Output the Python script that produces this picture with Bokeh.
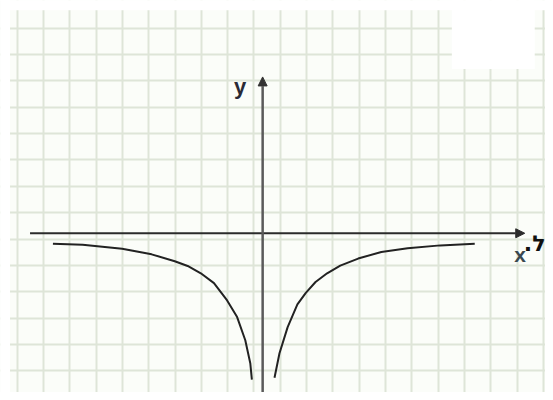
from bokeh.plotting import figure
from bokeh.models import Range1d, FixedTicker, Arrow, NormalHead
from bokeh.core.properties import value
from bokeh.embed import file_html
from bokeh.resources import INLINE

# Curve points (grid units, origin at axis crossing)
left_x = [-7.97, -6.84, -5.34, -4.22, -3.34, -2.85, -2.35, -1.85, -1.35, -0.97, -0.66, -0.47, -0.41]
left_y = [-0.40, -0.44, -0.59, -0.80, -1.06, -1.24, -1.52, -1.89, -2.55, -3.18, -4.06, -4.93, -5.55]
right_x = [0.45, 0.64, 0.95, 1.32, 1.64, 2.01, 2.45, 2.95, 3.63, 4.51, 5.51, 6.75, 8.06]
right_y = [-5.48, -4.55, -3.56, -2.70, -2.26, -1.85, -1.52, -1.23, -0.96, -0.71, -0.57, -0.46, -0.40]

axis_labels = ["x", "y"]
side_label = "ל.\u200f"

# view geometry (grid units); whole reference canvas mapped onto the figure
UX = 26.7
UY = 26.9
W, H = 545, 392
x0, x1 = -266.0 / UX, (553.0 - 266.0) / UX
y1, y0 = 237.5 / UY, -(400.0 - 237.5) / UY

p = figure(width=W, height=H, x_range=Range1d(x0, x1), y_range=Range1d(y0, y1),
           output_backend="svg", toolbar_location=None,
           min_border=0, min_border_left=0, min_border_right=0,
           min_border_top=0, min_border_bottom=0,
           background_fill_color="#fbfdf9", border_fill_color="white",
           outline_line_color=None)
p.xaxis.visible = False
p.yaxis.visible = False

vticks = [-9.33 + k for k in range(0, 21)]
hticks = [0.78 + k for k in range(-7, 8)]
p.xgrid.ticker = FixedTicker(ticks=vticks)
p.ygrid.ticker = FixedTicker(ticks=hticks)
for g in (p.xgrid, p.ygrid):
    g.grid_line_color = "#dee5d8"
    g.grid_line_width = 2

# white patches (top strip and cut-out at top right)
p.quad(left=[x0, 7.19, x0], right=[x1, 10.34, -9.6], bottom=[8.46, 6.23, y0 - 1], top=[y1 + 1, y1 + 1, y1 + 1],
       fill_color="white", line_color=None)

# axes with arrows
p.add_layout(Arrow(x_start=-8.84, y_start=0.0, x_end=9.96, y_end=0.0,
                   line_color="#2b2b2b", line_width=2,
                   end=NormalHead(size=9, fill_color="#2b2b2b", line_color="#2b2b2b")))
p.add_layout(Arrow(x_start=0.0, y_start=y0 - 0.5, x_end=0.0, y_end=5.93,
                   line_color="#5a5a5a", line_width=2.5,
                   end=NormalHead(size=9, fill_color="#333333", line_color="#333333")))

# curve
p.line(left_x, left_y, line_color="#222222", line_width=2, line_join="round")
p.line(right_x, right_y, line_color="#222222", line_width=2, line_join="round")

# labels
p.text(x=[-0.86], y=[5.56], text=[axis_labels[1]], text_font=value("Liberation Sans"),
       text_font_size="22px", text_font_style="bold", text_color="#2a2a35",
       text_align="center", text_baseline="middle")
p.text(x=[9.78], y=[-0.82], text=[axis_labels[0]], text_font=value("Liberation Sans"),
       text_font_size="21px", text_font_style="bold", text_color="#3a4850",
       text_align="center", text_baseline="middle")
p.text(x=[x1], y=[-0.40], text=[side_label], text_font=value("DejaVu Sans"),
       text_font_size="22px", text_font_style="bold", text_color="#111111",
       text_align="right", text_baseline="alphabetic")

open("out.html", "w").write(file_html(p, INLINE))
